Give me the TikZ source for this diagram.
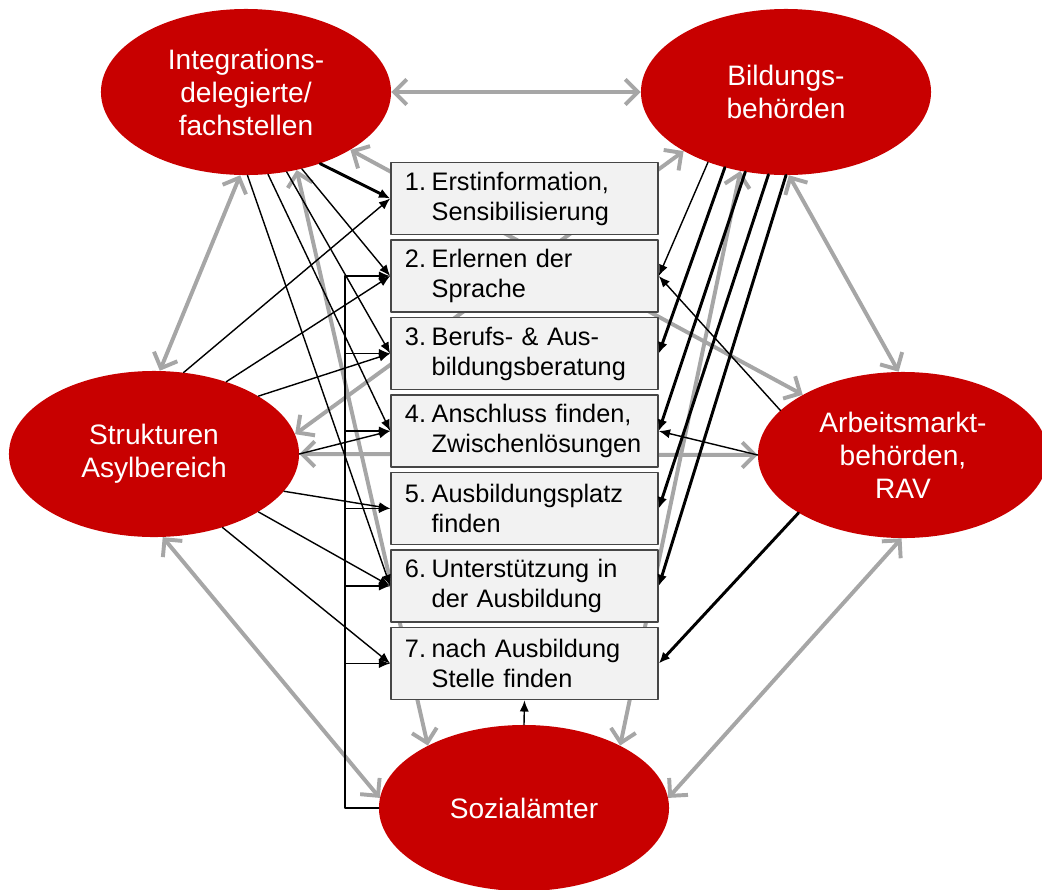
\documentclass[tikz,border=0pt]{standalone}
\usepackage{fontspec}
\setmainfont{Liberation Sans}
\usetikzlibrary{shapes.geometric,arrows.meta}
\definecolor{amtred}{RGB}{200,0,0}
\definecolor{linkgray}{RGB}{166,166,166}
\definecolor{boxfill}{RGB}{242,242,242}
\definecolor{boxline}{RGB}{70,70,70}
\newcommand{\steptext}[3]{\makebox[19pt][l]{#1}#2\\\hspace*{19pt}#3}
\begin{document}
\begin{tikzpicture}[x=0.025cm, y=-0.025cm, line join=round, line cap=round,
    amt/.style={ellipse, fill=amtred, minimum width=7.25cm, minimum height=4.15cm, inner sep=0pt, text=white, align=center, font=\fontsize{20}{23.5}\selectfont},
    stepbox/.style={rectangle, draw=boxline, line width=1.1pt, fill=boxfill, minimum height=1.8cm, text width=5.975cm, inner xsep=0.35cm, align=left, font=\fontsize{18}{21.3}\selectfont},
    link/.style={linkgray, line width=2.8pt, {Straight Barb[length=9pt,width=18pt]}-{Straight Barb[length=9pt,width=18pt]}},
    thinflow/.style={line width=1pt, -{Latex[length=8pt,width=6.5pt]}},
    thickflow/.style={line width=2.1pt, -{Latex[length=8pt,width=7pt]}}]
      \useasboundingbox (0,0) rectangle (1042,890);

      \node[amt] (integ) at (246,92) {Integrations-\\delegierte/\\fachstellen};
      \node[amt] (bild) at (786,92) {Bildungs-\\behörden};
      \node[amt] (asyl) at (154,454) {Strukturen\\Asylbereich};
      \node[amt] (arbeit) at (903,455) {Arbeitsmarkt-\\behörden,\\RAV};
      \node[amt] (sozial) at (524,808) {Sozialämter};

      \draw[link] (integ.east) -- (bild.west);
      \draw[link] (integ.-94) -- (asyl.86);
      \draw[link] (bild.-88) -- (arbeit.93);
      \draw[link] (asyl.-84) -- (sozial.176);
      \draw[link] (arbeit.-91) -- (sozial.4);
      \draw[link] (asyl.east) -- (arbeit.west);
      \draw[link] (integ.-29) -- (arbeit.149);
      \draw[link] (asyl.8) -- (bild.-150);
      \draw[link] (integ.-57) -- (sozial.147);
      \draw[link] (bild.-120) -- (sozial.33);

      \node[stepbox] (b1) at (524.5,198.5) {\steptext{1.}{Erstinformation,}{Sensibilisierung}};
      \node[stepbox] (b2) at (524.5,276) {\steptext{2.}{Erlernen der}{Sprache}};
      \node[stepbox] (b3) at (524.5,353.5) {\steptext{3.}{Berufs- \& Aus-}{bildungsberatung}};
      \node[stepbox] (b4) at (524.5,431) {\steptext{4.}{Anschluss finden,}{Zwischenlösungen}};
      \node[stepbox] (b5) at (524.5,508.5) {\steptext{5.}{Ausbildungsplatz}{finden}};
      \node[stepbox] (b6) at (524.5,586) {\steptext{6.}{Unterstützung in}{der Ausbildung}};
      \node[stepbox] (b7) at (524.5,663.5) {\steptext{7.}{nach Ausbildung}{Stelle finden}};

      \draw[thickflow] (integ.-44) -- (b1.west);
      \draw[thinflow] (integ.-54) -- (b2.west);
      \draw[thinflow] (integ.-63) -- (b3.west);
      \draw[thinflow] (integ.-75) -- (b4.west);
      \draw[thinflow] (integ.-89) -- (b6.west);

      \draw[thinflow] (asyl.70) -- (b1.west);
      \draw[thinflow] (asyl.45) -- (b2.west);
      \draw[thinflow] (asyl.29) -- (b3.west);
      \draw[thinflow] (asyl.east) -- (b4.west);
      \draw[thinflow] (asyl.-16) -- (b5.west);
      \draw[thinflow] (asyl.-29) -- (b6.west);
      \draw[thinflow] (asyl.-47) -- (b7.west);

      \draw[thinflow] (bild.-138) -- (b2.east);
      \draw[thickflow] (bild.-129) -- (b3.east);
      \draw[thickflow] (bild.-117) -- (b4.east);
      \draw[thickflow] (bild.-102) -- (b5.east);
      \draw[thickflow] (bild.-90) -- (b6.east);

      \draw[thinflow] (arbeit.160) -- (b2.east);
      \draw[thinflow] (arbeit.west) -- (b4.east);
      \draw[thickflow] (arbeit.-151) -- (b7.east);

      \coordinate (bus) at (345,0);
      \draw[thinflow] (sozial.north) -- (b7.south);
      \draw[thinflow] (sozial.west) -| (bus |- b2.west) -- (b2.west);
      \draw[thinflow] (bus |- b3.west) -- (b3.west);
      \draw[thinflow] (bus |- b4.west) -- (b4.west);
      \draw[thinflow] (bus |- b5.west) -- (b5.west);
      \draw[thinflow] (bus |- b6.west) -- (b6.west);
      \draw[thinflow] (bus |- b7.west) -- (b7.west);
\end{tikzpicture}
\end{document}
